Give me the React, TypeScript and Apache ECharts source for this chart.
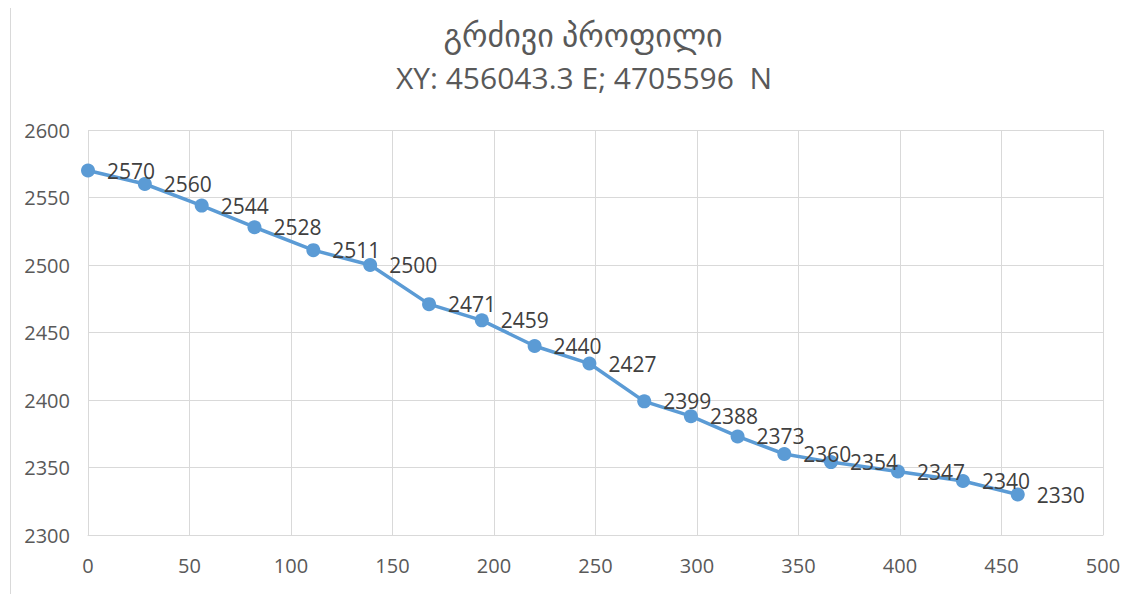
import React, { useEffect, useRef } from "react";
import * as echarts from "echarts";

const distances = [0, 28, 56, 82, 111, 139, 168, 194, 220, 247, 274, 297, 320, 343, 366, 399, 431, 458];
const elevations = [2570, 2560, 2544, 2528, 2511, 2500, 2471, 2459, 2440, 2427, 2399, 2388, 2373, 2360, 2354, 2347, 2340, 2330];
const titleLine1 = "გრძივი პროფილი";
const titleLine2 = "XY: 456043.3 E; 4705596  N";

const FONT = "'Open Sans', 'DejaVu Sans', sans-serif";

export default function App() {
  const ref = useRef<HTMLDivElement>(null);
  useEffect(() => {
    if (!ref.current) return;
    const chart = echarts.init(ref.current, null, { renderer: "svg" });
    const data = distances.map((d, i) => [d, elevations[i]]);
    chart.setOption({
      animation: false,
      backgroundColor: "#ffffff",
      textStyle: { fontFamily: FONT },
      title: [
        {
          text: titleLine1,
          left: 578,
          top: 13,
          textAlign: "center",
          textStyle: { fontFamily: FONT, fontSize: 32, fontWeight: "normal", color: "#595959" },
        },
        {
          text: titleLine2,
          left: 579,
          top: 57,
          textAlign: "center",
          textStyle: { fontFamily: FONT, fontSize: 30, fontWeight: "normal", color: "#595959" },
        },
      ],
      graphic: [
        {
          type: "line",
          shape: { x1: 10.5, y1: 8, x2: 10.5, y2: 594 },
          style: { stroke: "#D9D9D9", lineWidth: 1 },
        },
      ],
      grid: { left: 88, right: 36, top: 130, bottom: 59 },
      xAxis: {
        type: "value",
        min: 0,
        max: 500,
        interval: 50,
        axisLine: { show: true, lineStyle: { color: "#D9D9D9", width: 1 } },
        axisTick: { show: false },
        axisLabel: { color: "#595959", fontSize: 20, margin: 20, fontFamily: FONT },
        splitLine: { show: true, lineStyle: { color: "#D9D9D9", width: 1 } },
      },
      yAxis: {
        type: "value",
        min: 2300,
        max: 2600,
        interval: 50,
        axisLine: { show: false },
        axisTick: { show: false },
        axisLabel: {
          color: "#595959",
          fontSize: 20,
          margin: 18,
          fontFamily: FONT,
          formatter: (v: number) => String(v),
        },
        splitLine: { show: true, lineStyle: { color: "#D9D9D9", width: 1 } },
      },
      series: [
        {
          type: "line",
          data,
          symbol: "circle",
          symbolSize: 14,
          lineStyle: { color: "#5B9BD5", width: 3.5 },
          itemStyle: { color: "#5B9BD5" },
          label: {
            show: true,
            position: "right",
            distance: 12,
            color: "#404040",
            fontSize: 21,
            fontFamily: FONT,
            formatter: (p: any) => String(p.value[1]),
          },
        },
      ],
    });
    return () => chart.dispose();
  }, []);
  return (
    <div
      ref={ref}
      style={{ position: "fixed", left: 0, top: 0, width: 1139, height: 594 }}
    />
  );
}
